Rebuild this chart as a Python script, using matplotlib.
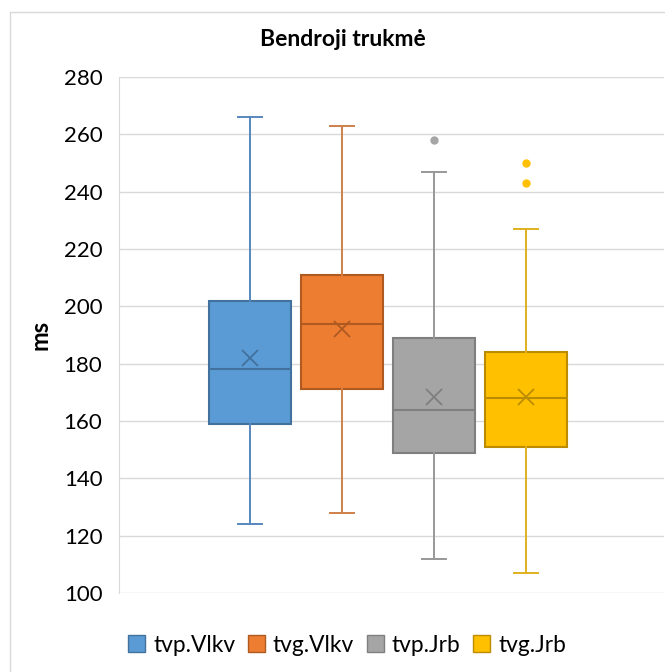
import matplotlib.pyplot as plt
from matplotlib.patches import Rectangle

# values (ms)
series = ['tvp.Vlkv', 'tvg.Vlkv', 'tvp.Jrb', 'tvg.Jrb']
whisker_low = [124, 128, 112, 107]
q1 = [159, 171, 149, 151]
median = [178, 194, 164, 168]
q3 = [202, 211, 189, 184]
whisker_high = [266, 263, 247, 227]
mean = [182, 192, 168.5, 168.5]
outliers = [[], [], [258], [250, 243]]

fill = ['#5B9BD5', '#ED7D31', '#A5A5A5', '#FFC000']
edge = ['#41719C', '#AE5A21', '#7F7F7F', '#BC8C00']
whisk = ['#5687BD', '#D0804A', '#989898', '#E0B020']


def main():
    plt.rcParams['font.family'] = ['Lato', 'DejaVu Sans']
    fig = plt.figure(figsize=(6.65, 6.72), dpi=100)
    ax = fig.add_axes([119 / 665, 1 - 593 / 672, (664 - 119) / 665, (593 - 77) / 672])

    # outer chart frame
    fig.patches.append(Rectangle((10 / 665, -0.1), 1.2, 1.1 - 12 / 672,
                                 transform=fig.transFigure, fill=False,
                                 edgecolor='#D9D9D9', lw=1))

    stats = []
    for i in range(len(series)):
        stats.append(dict(whislo=whisker_low[i], q1=q1[i], med=median[i],
                          q3=q3[i], whishi=whisker_high[i], mean=mean[i],
                          fliers=outliers[i], label=series[i]))

    positions = [1, 2, 3, 4]
    for i, st in enumerate(stats):
        ax.bxp([st], positions=[positions[i]], widths=0.9, patch_artist=True,
               showmeans=True, manage_ticks=False,
               boxprops=dict(facecolor=fill[i], edgecolor=edge[i], lw=1.5),
               medianprops=dict(color=edge[i], lw=1.5),
               whiskerprops=dict(color=whisk[i], lw=1.4),
               capprops=dict(color=whisk[i], lw=1.4),
               capwidths=0.27,
               meanprops=dict(marker='x', markeredgecolor=edge[i],
                              markersize=11, markeredgewidth=1.3),
               flierprops=dict(marker='o', markerfacecolor=fill[i],
                               markeredgecolor=fill[i], markersize=5))

    ax.set_xlim(-0.424, 5.5)
    ax.set_ylim(100, 280)
    ax.set_yticks(range(100, 281, 20))
    ax.set_xticks([])
    ax.grid(axis='y', color='#D9D9D9', lw=1)
    ax.set_axisbelow(True)
    for s in ['top', 'right', 'bottom']:
        ax.spines[s].set_visible(False)
    ax.spines['left'].set_color('#D9D9D9')
    ax.tick_params(axis='y', length=0, labelsize=16, pad=12, labelcolor='#000000')
    fig.text(40 / 665, 1 - 335 / 672, 'ms', rotation=90, ha='center', va='center',
             fontsize=17, fontweight='bold')
    fig.text(343 / 665, 1 - 40 / 672, 'Bendroji trukmė', ha='center', va='center',
             fontsize=16.5, fontweight='bold')

    handles = [Rectangle((0, 0), 1, 1, facecolor=fill[i], edgecolor=edge[i])
               for i in range(len(series))]
    fig.legend(handles, series, loc='center', bbox_to_anchor=(347 / 665, 1 - 645 / 672),
               ncol=4, frameon=False, fontsize=16.4, handlelength=0.75, handleheight=0.75,
               handletextpad=0.35, columnspacing=0.55)

    fig.savefig('out.png', dpi=100)


if __name__ == '__main__':
    main()
